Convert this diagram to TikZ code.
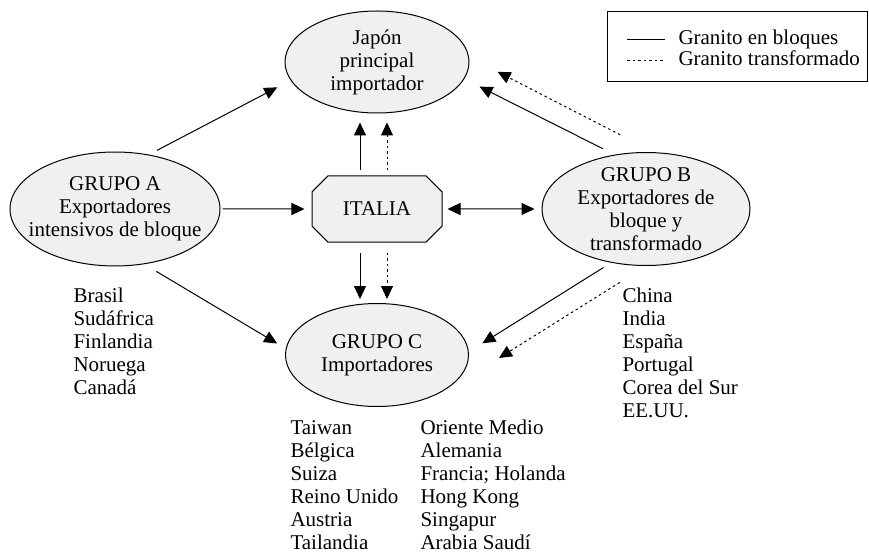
\documentclass[tikz,border=0pt]{standalone}
\usepackage{fontspec}
\setmainfont{Liberation Serif}
\usetikzlibrary{arrows.meta,shapes.geometric,shapes.misc}

\begin{document}
\begin{tikzpicture}[x=1pt, y=1pt, font=\fontsize{21}{23}\selectfont, line width=1pt,
	grupo/.style={ellipse, draw, fill=gray!12, inner sep=0pt},
	lista/.style={align=left, inner sep=0pt, anchor=north west},
	transf/.style={dash pattern=on 2.5pt off 3pt},
	>={Triangle[length=13pt, width=12pt]}]
\useasboundingbox (0,0) rectangle (869,-553);

\node[grupo, minimum width=184pt, minimum height=102pt, label={[align=center]center:Jap\'on\\principal\\importador}] (n01) at (377, -62) {};

\node[grupo, minimum width=210pt, minimum height=114pt, label={[align=center]center:GRUPO A\\Exportadores\\intensivos de bloque}] (n11) at (115, -209) {};
\node[chamfered rectangle, chamfered rectangle xsep=9pt, chamfered rectangle ysep=9pt, draw, fill=gray!12, inner sep=0pt, minimum width=130pt, minimum height=66pt] (n12) at (377, -209) {ITALIA};
\node[grupo, minimum width=208pt, minimum height=113pt, label={[align=center]center:GRUPO B\\Exportadores de\\bloque y\\transformado}] (n13) at (646, -209) {};

\node[grupo, minimum width=183pt, minimum height=103pt, label={[align=center]center:GRUPO C\\Importadores}] (n21) at (377, -355) {};

\node[lista] (n31) at (73, -287.5) {Brasil\\Sud\'africa\\Finlandia\\Noruega\\Canad\'a};
\node[lista] (n32) at (622, -287.5) {China\\India\\Espa\~na\\Portugal\\Corea del Sur\\EE.UU.};
\node[lista] (n33) at (290, -419.7) {Taiwan\\B\'elgica\\Suiza\\Reino Unido\\Austria\\Tailandia};
\node[lista] (n34) at (420, -419.7) {Oriente Medio\\Alemania\\Francia; Holanda\\Hong Kong\\Singapur\\Arabia Saud\'i};

\node[draw, inner sep=0pt, minimum width=260pt, minimum height=70pt] (n00) at (737, -47) {};
\node[anchor=base west, inner sep=0pt] (n02) at (678, -45) {Granito en bloques};
\node[anchor=base west, inner sep=0pt] (n03) at (678, -66) {Granito transformado};
\draw (627, -40) -- (665, -40);
\draw[transf] (627, -61) -- (663, -61);

\draw[->, shorten <=9pt, shorten >=15pt] (n11.58) -- (n01.192);
\draw[->, shorten <=2pt, shorten >=7pt] (n11) -- (n12);
\draw[->, shorten <=14pt, shorten >=10pt] (n11.298) -- (n21.176);

\draw[->, shorten <=5pt, shorten >=9pt] ([xshift=-17pt]n12.north) -- ([xshift=-17pt]n01.south);
\draw[->, transf, shorten <=5pt, shorten >=9pt] ([xshift=10pt]n12.north) -- ([xshift=10pt]n01.south);
\draw[->, shorten <=10pt, shorten >=4pt] ([xshift=-17pt]n12.south) -- ([xshift=-17pt]n21.north);
\draw[->, transf, shorten <=10pt, shorten >=4pt] ([xshift=10pt]n12.south) -- ([xshift=10pt]n21.north);
\draw[<->, shorten <=5pt, shorten >=7pt] (n12) -- (n13);

\draw[->, shorten <=13pt, shorten >=17pt] (n13.120) -- (n01.349);
\draw[->, transf, shorten <=38pt, shorten >=32pt] (n13.82) -- (n01.3);
\draw[->, shorten <=9pt, shorten >=16pt] (n13.237) -- (n21.2);
\draw[->, transf, shorten <=31pt] (n13.270) -- ([xshift=30pt, yshift=-3pt]n21.east);
\end{tikzpicture}
\end{document}
